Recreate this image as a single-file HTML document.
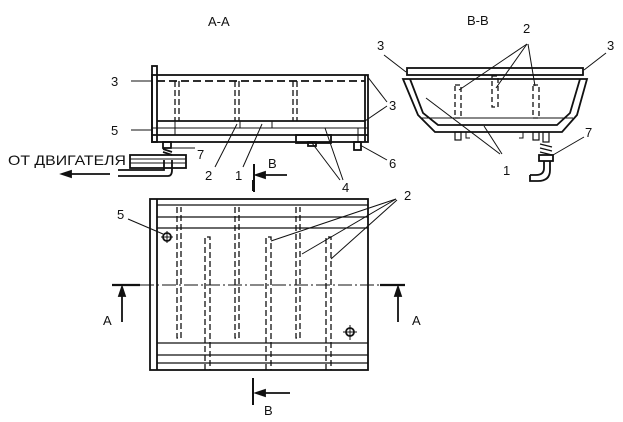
<!DOCTYPE html>
<html><head><meta charset="utf-8"><style>
html,body{margin:0;padding:0;background:#fff;width:623px;height:422px;overflow:hidden}
svg{display:block}
text{font-family:"Liberation Sans",sans-serif;font-size:13px;fill:#111}
</style></head><body>
<svg width="623" height="422" viewBox="0 0 623 422" stroke="#111" fill="none" stroke-width="1.8">
<!-- Titles -->
<text x="208" y="26" stroke="none">А-А</text>
<text x="467" y="25" stroke="none">В-В</text>

<!-- ===== A-A side view ===== -->
<rect x="152" y="66" width="5" height="76"/>
<rect x="152" y="75" width="216" height="67"/>
<line x1="157" y1="121" x2="365" y2="121"/>
<line x1="365" y1="75" x2="365" y2="142"/>
<line x1="152" y1="128" x2="368" y2="128" stroke-width="1"/>
<line x1="152" y1="135" x2="368" y2="135"/>
<line x1="157" y1="81" x2="365" y2="81" stroke-dasharray="8,4"/>
<g stroke-dasharray="6,3" stroke-width="1.3">
<line x1="175" y1="81" x2="175" y2="121"/><line x1="179" y1="81" x2="179" y2="121"/>
<line x1="235" y1="81" x2="235" y2="121"/><line x1="239" y1="81" x2="239" y2="121"/>
<line x1="293" y1="81" x2="293" y2="121"/><line x1="297" y1="81" x2="297" y2="121"/>
</g>
<line x1="175" y1="121" x2="175" y2="135" stroke-width="1"/>
<line x1="240" y1="121" x2="240" y2="128" stroke-width="1"/>
<line x1="272" y1="121" x2="272" y2="128" stroke-width="1"/>
<line x1="358" y1="128" x2="358" y2="142" stroke-width="1"/>
<rect x="296" y="135" width="35" height="8"/>
<rect x="308" y="142" width="8" height="4"/>
<rect x="354" y="142" width="7" height="8"/>
<rect x="163" y="142" width="8" height="6"/>
<path d="M163 149 l9 3 M163 152 l9 3"/>
<rect x="130" y="155" width="56" height="13"/>
<line x1="130" y1="159" x2="186" y2="159" stroke-width="1"/>
<line x1="130" y1="163" x2="186" y2="163" stroke-width="1"/>
<path d="M118 170 H164 V160 M118 176 H168 Q172 176 172 170 V160"/>
<text x="8" y="165" stroke="none" style="font-size:14px" textLength="118" lengthAdjust="spacingAndGlyphs">ОТ ДВИГАТЕЛЯ</text>
<line x1="110" y1="174" x2="68" y2="174"/>
<path d="M62 174 l9 -3 v6 z" fill="#111"/>
<line x1="254" y1="164" x2="254" y2="192" stroke-width="2"/>
<line x1="287" y1="175" x2="262" y2="175"/>
<path d="M256 175 l9 -3 v6 z" fill="#111"/>
<text x="268" y="168" stroke="none">В</text>
<text x="111" y="86" stroke="none">3</text><line x1="131" y1="81" x2="152" y2="81" stroke-width="1"/>
<text x="111" y="135" stroke="none">5</text><line x1="131" y1="130" x2="152" y2="130" stroke-width="1"/>
<text x="197" y="159" stroke="none">7</text><line x1="172" y1="148" x2="195" y2="148" stroke-width="1"/>
<text x="205" y="180" stroke="none">2</text><line x1="215" y1="167" x2="237" y2="124" stroke-width="1"/>
<text x="235" y="180" stroke="none">1</text><line x1="243" y1="167" x2="262" y2="124" stroke-width="1"/>
<text x="342" y="192" stroke="none">4</text>
<line x1="340" y1="180" x2="312" y2="143" stroke-width="1"/><line x1="343" y1="180" x2="325" y2="128" stroke-width="1"/>
<text x="389" y="110" stroke="none">3</text>
<line x1="387" y1="102" x2="367" y2="76" stroke-width="1"/><line x1="387" y1="106" x2="365" y2="121" stroke-width="1"/>
<text x="389" y="168" stroke="none">6</text><line x1="387" y1="160" x2="360" y2="145" stroke-width="1"/>

<!-- ===== B-B cross view ===== -->
<rect x="407" y="68" width="176" height="7"/>
<path d="M403 79 L418 115 L435 132 L562 132 L577 115 L587 79 Z"/>
<path d="M410 79 L423 113 L438 125 L557 125 L570 113 L580 79"/>
<line x1="421" y1="118" x2="573" y2="118" stroke-width="1"/>
<g stroke-width="1.3" stroke-dasharray="5,3">
<rect x="455" y="85" width="6" height="33"/>
<rect x="492" y="76" width="6" height="31"/>
<rect x="533" y="85" width="6" height="33"/>
</g>
<rect x="455" y="132" width="6" height="8" stroke-width="1.2"/>
<rect x="533" y="132" width="6" height="8" stroke-width="1.2"/>
<path d="M466 132 v6 h4 M523 132 v6 h-4" stroke-width="1"/>
<rect x="543" y="132" width="6" height="10" stroke-width="1.2"/>
<path d="M540 144 l12 3 M540 148 l12 3 M540 152 l12 3" stroke-width="1.2"/>
<rect x="539" y="155" width="14" height="6"/>
<path d="M544 161 V168 Q544 175 536 175 H530 M550 161 V170 Q550 181 538 181 H530 V175" />
<text x="523" y="33" stroke="none">2</text>
<line x1="527" y1="44" x2="459" y2="90" stroke-width="1"/><line x1="527" y1="44" x2="496" y2="88" stroke-width="1"/><line x1="528" y1="44" x2="535" y2="86" stroke-width="1"/>
<text x="377" y="50" stroke="none">3</text><line x1="384" y1="55" x2="406" y2="72" stroke-width="1"/>
<text x="607" y="50" stroke="none">3</text><line x1="606" y1="53" x2="584" y2="70" stroke-width="1"/>
<text x="503" y="175" stroke="none">1</text>
<line x1="500" y1="154" x2="426" y2="98" stroke-width="1"/><line x1="502" y1="154" x2="484" y2="126" stroke-width="1"/>
<text x="585" y="137" stroke="none">7</text><line x1="584" y1="137" x2="553" y2="155" stroke-width="1"/>

<!-- ===== Plan view ===== -->
<rect x="150" y="199" width="218" height="171"/>
<line x1="157" y1="199" x2="157" y2="370"/>
<line x1="157" y1="205" x2="368" y2="205" stroke-width="1.3"/>
<line x1="157" y1="217" x2="368" y2="217" stroke-width="1.3"/>
<line x1="157" y1="228" x2="368" y2="228" stroke-width="1.3"/>
<line x1="157" y1="343" x2="368" y2="343" stroke-width="1.3"/>
<line x1="157" y1="355" x2="368" y2="355" stroke-width="1.3"/>
<line x1="157" y1="363" x2="368" y2="363" stroke-width="1.3"/>
<g stroke-width="1.3" stroke-dasharray="6,3">
<path d="M177 207 V338 H181 V207"/>
<path d="M235 207 V338 H239 V207"/>
<path d="M296 207 V338 H300 V207"/>
<path d="M205 370 V237 H210 V370"/>
<path d="M266 370 V237 H271 V370"/>
<path d="M326 370 V237 H331 V370"/>
</g>
<line x1="140" y1="285" x2="380" y2="285" stroke-width="1" stroke-dasharray="14,3,2,3"/>
<line x1="112" y1="285" x2="140" y2="285" stroke-width="2.2"/>
<line x1="380" y1="285" x2="405" y2="285" stroke-width="2.2"/>
<line x1="122" y1="322" x2="122" y2="294"/><path d="M122 287 l-3 9 h6 z" fill="#111"/>
<line x1="398" y1="322" x2="398" y2="294"/><path d="M398 287 l-3 9 h6 z" fill="#111"/>
<text x="103" y="325" stroke="none">А</text>
<text x="412" y="325" stroke="none">А</text>
<circle cx="167" cy="237" r="4"/><path d="M161 237 h12 M167 231 v12" stroke-width="1"/>
<circle cx="350" cy="332" r="4"/><path d="M343 332 h14 M350 325 v15" stroke-width="1"/>
<line x1="253" y1="180" x2="253" y2="191" stroke-width="2"/>
<line x1="253" y1="378" x2="253" y2="405" stroke-width="2"/>
<line x1="290" y1="393" x2="262" y2="393"/><path d="M256 393 l9 -3 v6 z" fill="#111"/>
<text x="264" y="415" stroke="none">В</text>
<text x="117" y="219" stroke="none">5</text><line x1="128" y1="219" x2="163" y2="234" stroke-width="1"/>
<text x="404" y="200" stroke="none">2</text>
<line x1="396" y1="199" x2="271" y2="241" stroke-width="1"/><line x1="396" y1="199" x2="302" y2="254" stroke-width="1"/><line x1="397" y1="200" x2="331" y2="259" stroke-width="1"/>
</svg>
</body></html>
